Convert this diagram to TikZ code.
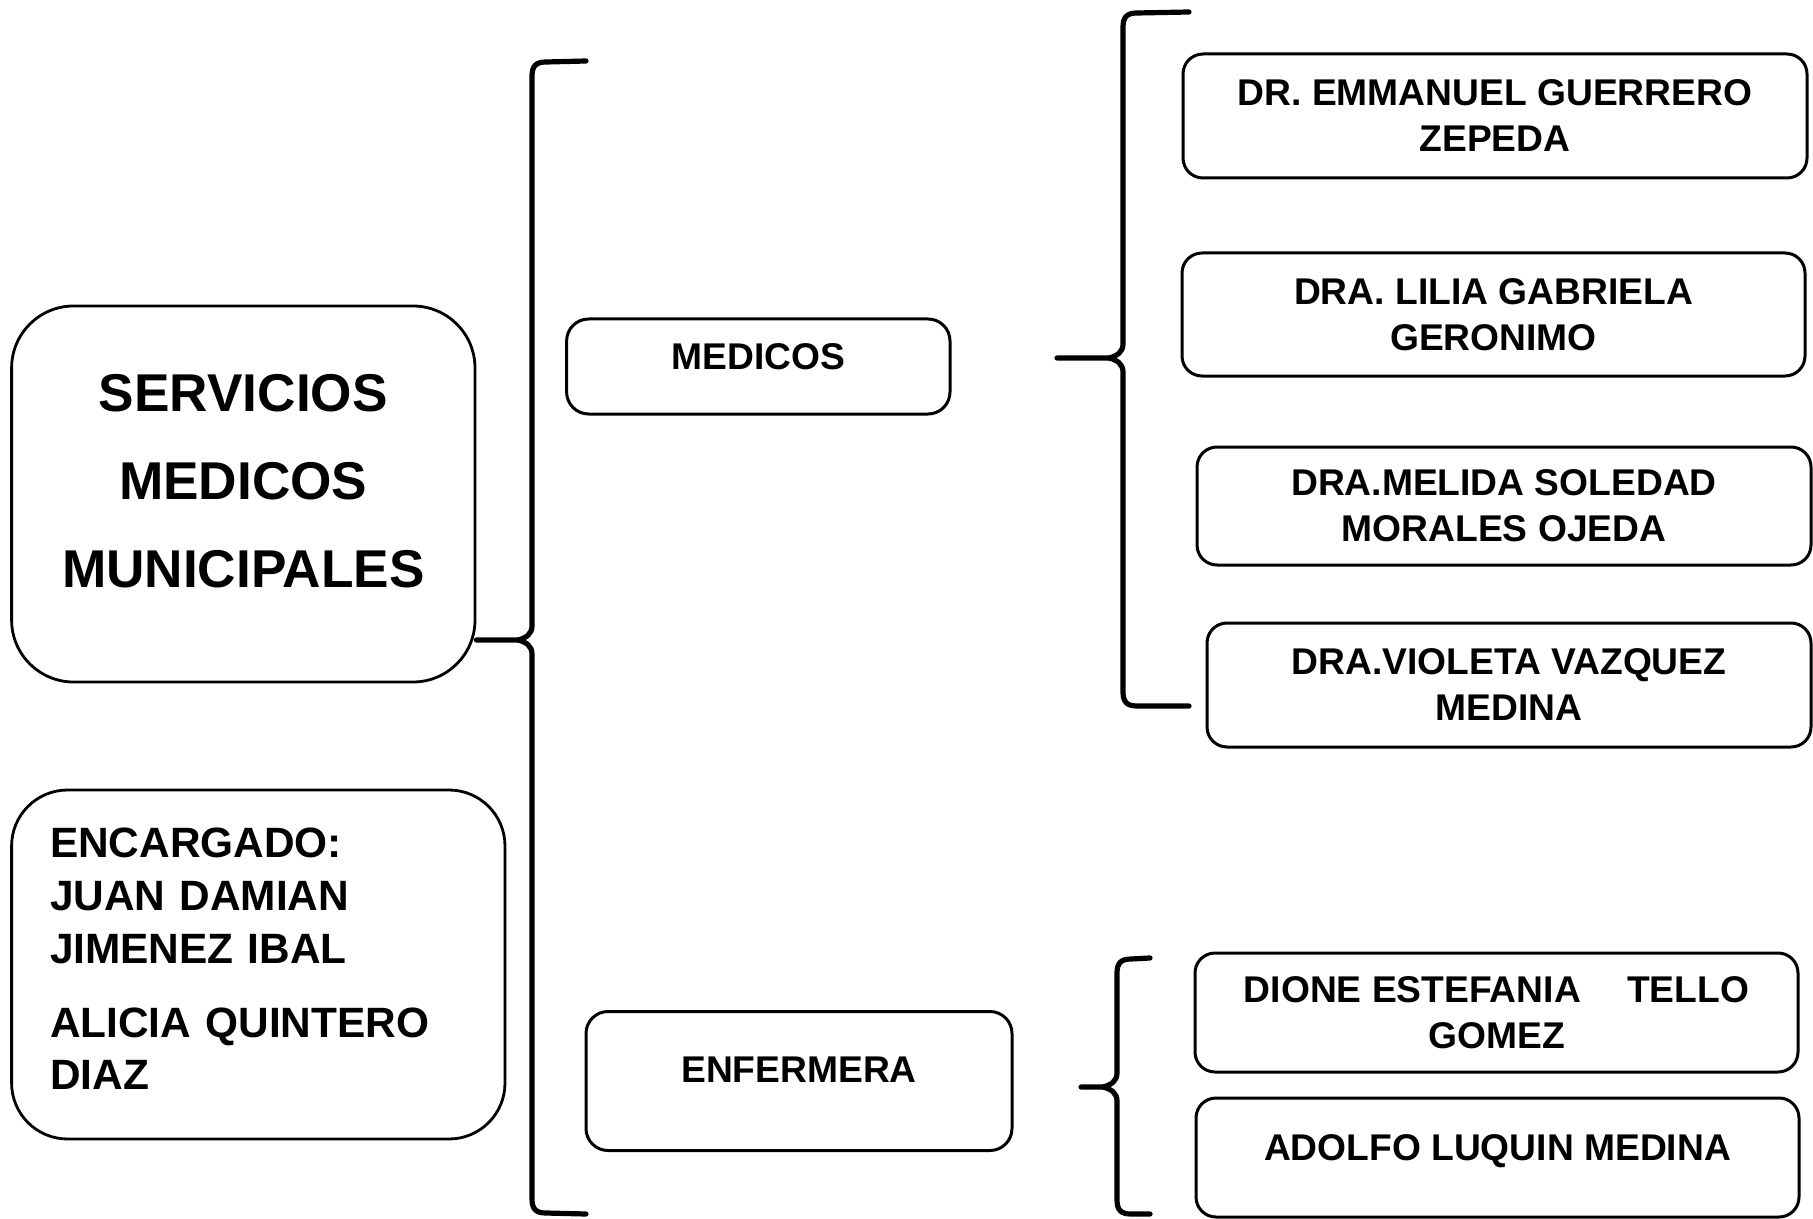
\documentclass[tikz,border=0pt]{standalone}
\usepackage{fontspec}
\setmainfont{Liberation Sans}

\begin{document}
\begin{tikzpicture}[
    x=0.5pt, y=-0.5pt,
    mainbox/.style={rectangle, draw=black, line width=1.4pt, rounded corners=31pt, align=center, inner sep=0pt, font=\fontsize{26.6}{44}\selectfont\bfseries},
    namebox/.style={rectangle, draw=black, line width=1.5pt, rounded corners=10pt, align=center, inner sep=0pt, font=\fontsize{18.6}{23}\selectfont\bfseries},
    groupbox/.style={namebox, rounded corners=11pt, text height=13.3pt},
    bracket/.style={line width=2.6pt, line cap=round, line join=round}
]
\useasboundingbox (0,0) rectangle (1813,1219);

% === Left column ===
\node[mainbox, minimum width=231.7pt, minimum height=188pt] (main) at (243.3,494)
    {SERVICIOS\\MEDICOS\\MUNICIPALES\rule[-13pt]{0pt}{13pt}};

\node[mainbox, rounded corners=28pt, align=left, text width=208.3pt, inner xsep=19.2pt,
      minimum width=246.7pt, minimum height=174.5pt, font=\fontsize{21.2}{26.3}\selectfont\bfseries] (boss) at (258.3,964.5)
    {ENCARGADO:\\JUAN DAMIAN\\JIMENEZ IBAL\\[10.7pt]ALICIA QUINTERO\\DIAZ\rule[-5.5pt]{0pt}{5.5pt}};

% === Groups ===
\node[groupbox, minimum width=191.7pt, minimum height=47.5pt, text depth=10.5pt] (medicos) at (758.3,366.5) {MEDICOS};
\node[groupbox, minimum width=213pt, minimum height=69.5pt, text depth=11.5pt] (enfermera) at (799,1081) {ENFERMERA};

% === Names ===
\node[namebox, minimum width=312pt, minimum height=62pt] (emmanuel) at (1495,116) {DR. EMMANUEL GUERRERO\\ZEPEDA};
\node[namebox, minimum width=311.5pt, minimum height=61.5pt] (lilia) at (1493.5,314.5) {DRA. LILIA GABRIELA\\GERONIMO};
\node[namebox, minimum width=307pt, minimum height=59pt] (melida) at (1504,506) {DRA.MELIDA SOLEDAD\\MORALES OJEDA};
\node[namebox, minimum width=302pt, minimum height=62pt] (violeta) at (1509,685) {DRA.VIOLETA VAZQUEZ\\MEDINA};
\node[namebox, minimum width=301.5pt, minimum height=59.5pt] (dione) at (1496.5,1012.5) {DIONE ESTEFANIA\hspace{18pt} TELLO\\GOMEZ};
\node[namebox, minimum width=301.5pt, minimum height=59.5pt, text height=13.3pt, text depth=10.5pt] (adolfo) at (1497.5,1157.5) {ADOLFO LUQUIN MEDINA};

% === Braces ===
\coordinate (b1tip) at (518,640);
\coordinate (b2tip) at (1109,358);
\coordinate (b3tip) at (1103,1087);

% main -> groups
\draw[bracket] (586,61) -- (546,62) .. controls (536,62) and (532,66) .. (532,76)
    -- (532,626) .. controls (532,634) and (526,638) .. (b1tip) -- (main.east |- b1tip);
\draw[bracket] (b1tip) .. controls (526,642) and (532,646) .. (532,654)
    -- (532,1199) .. controls (532,1209) and (536,1213) .. (546,1213) -- (586,1214);

% medicos
\draw[bracket] (1189,12) -- (1137,13) .. controls (1127,13) and (1123,17) .. (1123,27)
    -- (1123,344) .. controls (1123,352) and (1117,356) .. (b2tip) -- (1057,358);
\draw[bracket] (b2tip) .. controls (1117,360) and (1123,364) .. (1123,372)
    -- (1123,692) .. controls (1123,702) and (1127,706) .. (1137,706) -- (1189,706);

% enfermera
\draw[bracket] (1150,958) -- (1131,959) .. controls (1121,959) and (1117,963) .. (1117,973)
    -- (1117,1073) .. controls (1117,1081) and (1111,1085) .. (b3tip) -- (1081,1087);
\draw[bracket] (b3tip) .. controls (1111,1089) and (1117,1093) .. (1117,1101)
    -- (1117,1200) .. controls (1117,1210) and (1121,1214) .. (1131,1214) -- (1150,1214);

\end{tikzpicture}
\end{document}
